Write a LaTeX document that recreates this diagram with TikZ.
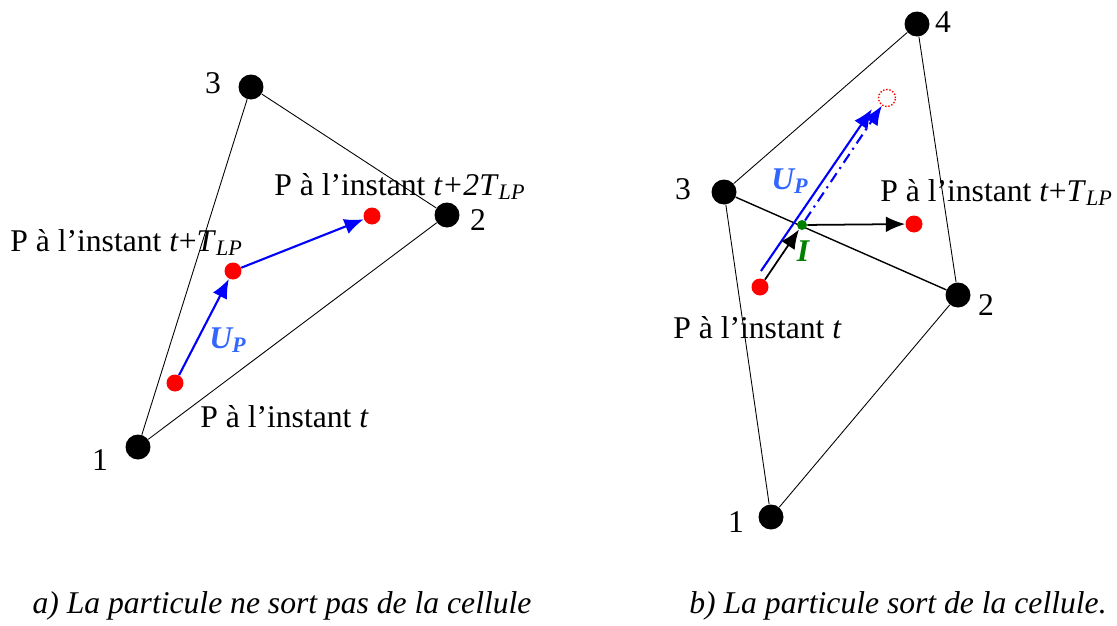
\documentclass[tikz,border=0pt]{standalone}
\usepackage{fontspec}
\setmainfont{Liberation Serif}
\usetikzlibrary{arrows.meta}
\definecolor{upblue}{RGB}{51,102,255}
\definecolor{igreen}{RGB}{0,128,0}
\begin{document}
\begin{tikzpicture}[x=0.02cm, y=-0.02cm, >={Latex[length=11pt,width=9pt]},
      font=\fontsize{18}{22}\selectfont,
      vertex/.style={circle, fill=black, inner sep=0pt, minimum size=0.5cm},
      part/.style={circle, fill=red, inner sep=0pt, minimum size=0.34cm},
      ghost/.style={circle, draw=red, densely dotted, thick, inner sep=0pt, minimum size=0.34cm},
      inter/.style={circle, fill=igreen, inner sep=0pt, minimum size=0.2cm},
      lbl/.style={inner sep=0pt},
      side/.style={line width=0.5pt},
      traj/.style={->, blue, line width=1.2pt},
      vit/.style={inner sep=0pt, text=upblue, font=\fontsize{18}{22}\selectfont\bfseries\itshape}]
    \useasboundingbox (0,0) rectangle (1117,626);
    % a) la particule reste dans la cellule
    \node[vertex] (a1) at (138,447) {};
    \node[vertex] (a2) at (447,215) {};
    \node[vertex] (a3) at (251,87) {};
    \node[lbl] (na1) at (100,460) {1};
    \node[lbl] (na2) at (478,220) {2};
    \node[lbl] (na3) at (213,83) {3};
    \draw[side] (a1) -- (a3) -- (a2) -- (a1);
    \node[part] (p0) at (175,383) {};
    \node[part] (p1) at (233,271) {};
    \node[part] (p2) at (372,216) {};
    \draw[traj] (p0) -- (p1);
    \draw[traj] (p1) -- (p2);
    \node[vit] (ua) at (228,340) {U\textsubscript{P}};
    \node[lbl, anchor=base west] (ta0) at (200,427) {P à l’instant \textit{t}};
    \node[lbl, anchor=base west] (ta1) at (10,251) {P à l’instant \textit{t}+\textit{T}\textsubscript{\textit{LP}}};
    \node[lbl, anchor=base west] (ta2) at (274,195) {P à l’instant \textit{t+2T}\textsubscript{\textit{LP}}};
    \node[lbl, anchor=base] (capa) at (282,613) {\textit{a) La particule ne sort pas de la cellule}};
    % b) la particule sort de la cellule
    \node[vertex] (b1) at (771,517) {};
    \node[vertex] (b2) at (958,295) {};
    \node[vertex] (b3) at (724,192) {};
    \node[vertex] (b4) at (917,24) {};
    \node[lbl] (nb1) at (736,522) {1};
    \node[lbl] (nb2) at (986,305) {2};
    \node[lbl] (nb3) at (683,189) {3};
    \node[lbl] (nb4) at (943,22) {4};
    \draw[side] (b3) -- (b4) -- (b2) -- (b1) -- (b3);
    \draw[line width=0.8pt] (b3) -- (b2);
    \node[part] (pb) at (760,287) {};
    \node[part] (pr) at (914,224) {};
    \node[ghost] (gh) at (887,98) {};
    \node[inter] (ib) at (802,225) {};
    \coordinate (bs) at (761,271);
    \coordinate (be) at (872,109);
    \draw[traj] (bs) -- (be);
    \draw[traj, dash pattern=on 6pt off 3pt on 1.2pt off 3pt] (ib) -- (gh);
    \draw[->, line width=1pt] (pb) -- (ib);
    \draw[->, line width=1pt] (ib) -- (pr);
    \node[vit] (ub) at (790,181) {U\textsubscript{P}};
    \node[lbl, text=igreen, font=\fontsize{18}{22}\selectfont\bfseries\itshape] (ni) at (803,251) {I};
    \node[lbl, anchor=base west] (tb0) at (673,338) {P à l’instant \textit{t}};
    \node[lbl, anchor=base west] (tb1) at (880,201) {P à l’instant \textit{t}+\textit{T}\textsubscript{\textit{LP}}};
    \node[lbl, anchor=base] (capb) at (898,613) {\textit{b) La particule sort de la cellule.}};
\end{tikzpicture}
\end{document}
